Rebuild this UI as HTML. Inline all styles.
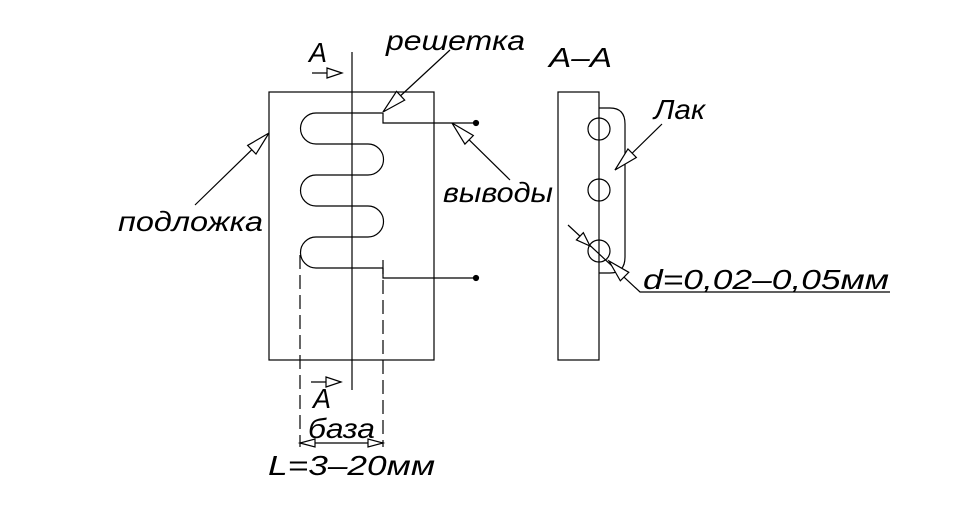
<!DOCTYPE html>
<html><head><meta charset="utf-8"><style>
html,body{margin:0;padding:0;background:#fff;}
svg{display:block;}
text{font-family:"Liberation Sans",sans-serif;font-style:italic;fill:#000;}
</style></head><body>
<svg id="s" width="954" height="524" viewBox="0 0 954 524" xmlns="http://www.w3.org/2000/svg" fill="none" stroke="#000" stroke-width="1.2">
<rect x="269" y="92" width="165" height="268"/>
<line x1="352" y1="52" x2="352" y2="390"/>
<path d="M383 113 H316 A15.5 15.5 0 0 0 316 144 H368 A15.5 15.5 0 0 1 368 175 H316 A15.5 15.5 0 0 0 316 206 H368 A15.5 15.5 0 0 1 368 237 H316 A15.5 15.5 0 0 0 316 268 H383"/>
<path d="M383 113 V123 H476"/>
<path d="M383 268 V278 H476"/>
<circle cx="476" cy="123" r="2.5" fill="#000"/>
<circle cx="476" cy="278" r="2.5" fill="#000"/>
<g stroke-dasharray="14,6">
<line x1="300" y1="255" x2="300" y2="447"/>
<line x1="383" y1="260" x2="383" y2="447"/>
</g>
<line x1="300" y1="443" x2="383" y2="443"/>
<line x1="312" y1="73" x2="340" y2="73"/>
<line x1="311" y1="382" x2="341" y2="382"/>
<line x1="195" y1="205" x2="269" y2="133"/>
<line x1="450" y1="50" x2="383" y2="112"/>
<line x1="510" y1="180" x2="452" y2="123"/>
<rect x="558" y="92" width="41" height="268"/>
<circle cx="599" cy="129" r="11"/>
<circle cx="599" cy="190" r="11"/>
<circle cx="599" cy="251" r="11"/>
<path d="M599 108 H610 Q625 108 625 124 V257 Q625 273 610 273 H599"/>
<line x1="662" y1="124" x2="615" y2="170"/>
<path d="M568 225 L640 292 H890"/>
<g id="arr"></g>
<g stroke="none" font-size="28">
<text x="386" y="50" textLength="139" lengthAdjust="spacingAndGlyphs">решетка</text>
<text x="309" y="62" textLength="18" lengthAdjust="spacingAndGlyphs">A</text>
<text x="313" y="408" textLength="18" lengthAdjust="spacingAndGlyphs">A</text>
<text x="118" y="231" textLength="145" lengthAdjust="spacingAndGlyphs">подложка</text>
<text x="443" y="202" textLength="110" lengthAdjust="spacingAndGlyphs">выводы</text>
<text x="308" y="438" textLength="67" lengthAdjust="spacingAndGlyphs">база</text>
<text x="268" y="475" textLength="167" lengthAdjust="spacingAndGlyphs">L=3–20мм</text>
<text x="549" y="67" textLength="63" lengthAdjust="spacingAndGlyphs">A–A</text>
<text x="654" y="119" textLength="51" lengthAdjust="spacingAndGlyphs">Лак</text>
<text x="643" y="289" textLength="246" lengthAdjust="spacingAndGlyphs">d=0,02–0,05мм</text>
</g>
</svg>
<script>
var g=document.getElementById('arr');
function arr(tx,ty,fx,fy,L,W){L=L||24;W=W||6;var dx=fx-tx,dy=fy-ty,d=Math.hypot(dx,dy);dx/=d;dy/=d;
var bx=tx+dx*L,by=ty+dy*L,px=-dy*W,py=dx*W;
var p=document.createElementNS('http://www.w3.org/2000/svg','polygon');
p.setAttribute('points',tx+','+ty+' '+(bx+px)+','+(by+py)+' '+(bx-px)+','+(by-py));
p.setAttribute('fill','#fff');g.appendChild(p);}
arr(342,73,312,73,15,5);
arr(341,382,311,382,15,5);
arr(300,443,383,443,15,4);
arr(383,443,300,443,15,4);
arr(269,133,195,205);
arr(383,112,450,50);
arr(452,123,510,180);
arr(615,170,662,124);
arr(590,246,568,225,14,5);
arr(609,261,640,292,22,6);
</script>
</body></html>
